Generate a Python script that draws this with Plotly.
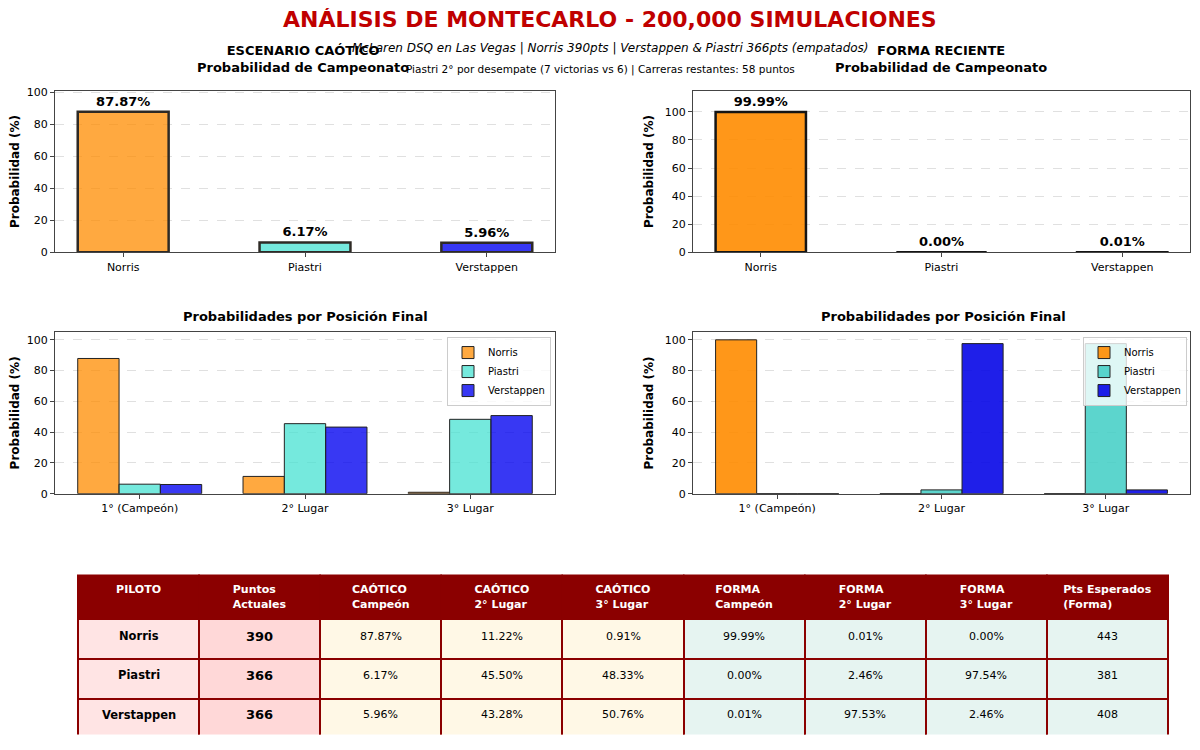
import plotly.graph_objects as go

# ---------------- data ----------------
drivers = ["Norris", "Piastri", "Verstappen"]
positions = ["1° (Campeón)", "2° Lugar", "3° Lugar"]

caos_champ = [87.87, 6.17, 5.96]
forma_champ = [99.99, 0.00, 0.01]

caos_norris = [87.87, 11.22, 0.91]
caos_piastri = [6.17, 45.50, 48.33]
caos_verstappen = [5.96, 43.28, 50.76]

forma_norris = [99.99, 0.01, 0.00]
forma_piastri = [0.00, 2.46, 97.54]
forma_verstappen = [0.01, 97.53, 2.46]

puntos_actuales = [390, 366, 366]
pts_esperados = [443, 381, 408]

table_header = ["PILOTO", "Puntos<br>Actuales", "CAÓTICO<br>Campeón", "CAÓTICO<br>2° Lugar",
                "CAÓTICO<br>3° Lugar", "FORMA<br>Campeón", "FORMA<br>2° Lugar",
                "FORMA<br>3° Lugar", "Pts Esperados<br>(Forma)"]

# ---------------- geometry helpers (page pixels -> paper) ----------------
FONT = "DejaVu Sans"
OFF = 8            # browser body margin
W, H = 1200 - 2 * OFF, 750 - 2 * OFF

def px_x(a, b):
    return [(a - OFF) / W, (b - OFF) / W]

def px_y(top, bottom):
    return [max(0.0, 1 - (bottom - OFF) / H), min(1.0, 1 - (top - OFF) / H)]

def pxx(a):
    return (a - OFF) / W

def pxy(a):
    return 1 - (a - OFF) / H

col_left = px_x(55, 555)
col_right = px_x(693, 1190)
row_top = px_y(88, 252)
row_bot = px_y(333, 497)

c_or_l = "rgba(255,140,0,0.75)"
c_tq_l = "rgba(64,224,208,0.72)"
c_bl_l = "rgba(0,0,240,0.78)"
c_or_r = "rgba(255,140,0,0.9)"
c_tq_r = "rgba(64,206,196,0.85)"
c_bl_r = "rgba(0,0,230,0.88)"

fig = go.Figure()

# Top-left: caotico champion
fig.add_trace(go.Bar(
    x=drivers, y=caos_champ, width=0.5,
    marker=dict(color=[c_or_l, c_tq_l, c_bl_l], line=dict(color="#2e2a25", width=2.5)),
    text=[f"{v:.2f}%" for v in caos_champ], textposition="outside",
    textfont=dict(family=FONT, size=13, color="black"),
    texttemplate="<b>%{text}</b>", cliponaxis=False,
    showlegend=False, xaxis="x", yaxis="y"))

# Top-right: forma champion
fig.add_trace(go.Bar(
    x=drivers, y=forma_champ, width=0.5,
    marker=dict(color=[c_or_r, c_tq_r, c_bl_r], line=dict(color="#151515", width=2.5)),
    text=[f"{v:.2f}%" for v in forma_champ], textposition="outside",
    textfont=dict(family=FONT, size=13, color="black"),
    texttemplate="<b>%{text}</b>", cliponaxis=False,
    showlegend=False, xaxis="x2", yaxis="y2"))

# Bottom-left: caotico positions
for name, vals, col in [("Norris", caos_norris, c_or_l), ("Piastri", caos_piastri, c_tq_l),
                        ("Verstappen", caos_verstappen, c_bl_l)]:
    fig.add_trace(go.Bar(
        x=positions, y=vals, name=name,
        marker=dict(color=col, line=dict(color="#222", width=1)),
        xaxis="x3", yaxis="y3", legend="legend"))

# Bottom-right: forma positions
for name, vals, col in [("Norris", forma_norris, c_or_r), ("Piastri", forma_piastri, c_tq_r),
                        ("Verstappen", forma_verstappen, c_bl_r)]:
    fig.add_trace(go.Bar(
        x=positions, y=vals, name=name,
        marker=dict(color=col, line=dict(color="#222", width=1)),
        xaxis="x4", yaxis="y4", legend="legend2"))

# ---------------- table ----------------
def pct(v):
    return f"{v:.2f}%"

cells = [
    [f"<b>{d}</b>" for d in drivers],
    [f"<b>{p}</b>" for p in puntos_actuales],
    [pct(v) for v in caos_champ],
    [pct(v) for v in [caos_norris[1], caos_piastri[1], caos_verstappen[1]]],
    [pct(v) for v in [caos_norris[2], caos_piastri[2], caos_verstappen[2]]],
    [pct(v) for v in forma_champ],
    [pct(v) for v in [forma_norris[1], forma_piastri[1], forma_verstappen[1]]],
    [pct(v) for v in [forma_norris[2], forma_piastri[2], forma_verstappen[2]]],
    [str(v) for v in pts_esperados],
]
col_sizes = [11.5, 13, 11, 11, 11, 11, 11, 11, 11]
fills = ["#ffe4e4", "#ffd8d8", "#fff8e6", "#fff8e6", "#fff8e6",
         "#e6f4f1", "#e6f4f1", "#e6f4f1", "#e6f4f1"]

TX0, TX1 = 78, 1168
TOP, HDR, ROWH = 580, 41.5, 40
fig.add_trace(go.Table(
    domain=dict(x=px_x(TX0, TX1), y=px_y(TOP, 742)),
    columnwidth=[1] * 9,
    header=dict(values=[f"<b>{h}</b>" for h in table_header],
                fill_color="#8b0000", line=dict(color="#8b0000", width=2),
                font=dict(family=FONT, size=11, color="white"),
                align="center", height=HDR),
    cells=dict(values=[[""] * 3 for _ in cells], fill_color=fills,
               line=dict(color="#8b0000", width=2),
               font=dict(family=FONT, size=11, color="black"),
               align="center", height=ROWH)))

# ---------------- axes ----------------
axis_common = dict(showline=True, linecolor="#444", linewidth=1, mirror=True,
                   ticks="outside", ticklen=4, tickcolor="#444",
                   tickfont=dict(family=FONT, size=11, color="black"))
yaxis_common = dict(axis_common, showgrid=True, gridcolor="rgba(0,0,0,0.12)", griddash="dash",
                    dtick=20, zeroline=False,
                    title=dict(text="<b>Probabilidad (%)</b>", font=dict(family=FONT, size=12, color="black"),
                               standoff=8))
xaxis_common = dict(axis_common, showgrid=False, type="category")
hidden = dict(visible=False, showgrid=False, zeroline=False, fixedrange=True)

fig.update_layout(
    width=W, height=H,
    margin=dict(l=0, r=0, t=0, b=0),
    paper_bgcolor="white", plot_bgcolor="rgba(0,0,0,0)",
    font=dict(family=FONT, color="black"),
    barmode="group", bargap=0.25, bargroupgap=0,
    xaxis=dict(xaxis_common, domain=col_left, anchor="y", range=[-0.375, 2.375]),
    yaxis=dict(yaxis_common, domain=row_top, anchor="x", range=[0, 101.05]),
    xaxis2=dict(xaxis_common, domain=col_right, anchor="y2", range=[-0.375, 2.375]),
    yaxis2=dict(yaxis_common, domain=row_top, anchor="x2", range=[0, 115]),
    xaxis3=dict(xaxis_common, domain=col_left, anchor="y3", range=[-0.5125, 2.5125]),
    yaxis3=dict(yaxis_common, domain=row_bot, anchor="x3", range=[0, 105]),
    xaxis4=dict(xaxis_common, domain=col_right, anchor="y4", range=[-0.5125, 2.5125]),
    yaxis4=dict(yaxis_common, domain=row_bot, anchor="x4", range=[0, 105]),
    # hidden scale spanning the table body, used to centre the cell texts
    xaxis5=dict(hidden, domain=px_x(TX0, TX1), anchor="y5", range=[-0.5, 8.5]),
    yaxis5=dict(hidden, domain=px_y(TOP + HDR, TOP + HDR + 3 * ROWH), anchor="x5", range=[2.5, -0.5]),
    legend=dict(x=pxx(551), y=pxy(338), xanchor="right", yanchor="top",
                bgcolor="rgba(255,255,255,0.8)", bordercolor="#cccccc", borderwidth=1,
                font=dict(family=FONT, size=10), tracegroupgap=0, itemwidth=30),
    legend2=dict(x=pxx(1187), y=pxy(338), xanchor="right", yanchor="top",
                 bgcolor="rgba(255,255,255,0.8)", bordercolor="#cccccc", borderwidth=1,
                 font=dict(family=FONT, size=10), tracegroupgap=0, itemwidth=30),
)

annotations = [
    dict(text="<b>ANÁLISIS DE MONTECARLO - 200,000 SIMULACIONES</b>", x=pxx(610), y=pxy(16),
         font=dict(family=FONT, size=22, color="#c00000")),
    dict(text="<b>ESCENARIO CAÓTICO<br>Probabilidad de Campeonato</b>", x=pxx(303), y=pxy(56),
         font=dict(family=FONT, size=13, color="black")),
    dict(text="<b>FORMA RECIENTE<br>Probabilidad de Campeonato</b>", x=pxx(941), y=pxy(56),
         font=dict(family=FONT, size=13, color="black")),
    dict(text="<i>McLaren DSQ en Las Vegas | Norris 390pts | Verstappen & Piastri 366pts (empatados)</i>",
         x=pxx(610), y=pxy(45), font=dict(family=FONT, size=12, color="black")),
    dict(text="Piastri 2° por desempate (7 victorias vs 6) | Carreras restantes: 58 puntos",
         x=pxx(600), y=pxy(66), font=dict(family=FONT, size=10.5, color="black")),
    dict(text="<b>Probabilidades por Posición Final</b>", x=pxx(305), y=pxy(317),
         font=dict(family=FONT, size=13, color="black")),
    dict(text="<b>Probabilidades por Posición Final</b>", x=pxx(943), y=pxy(317),
         font=dict(family=FONT, size=13, color="black")),
]
for a in annotations:
    a.update(xref="paper", yref="paper", showarrow=False, xanchor="center", yanchor="middle")

# table body texts, positioned on the hidden column/row scale
for ci, col in enumerate(cells):
    for ri, val in enumerate(col):
        annotations.append(dict(text=val, x=ci, y=ri, xref="x5", yref="y5", showarrow=False,
                                xanchor="center", yanchor="middle",
                                font=dict(family=FONT, size=col_sizes[ci], color="black")))

fig.update_layout(annotations=annotations)

fig.write_html("out.html")
